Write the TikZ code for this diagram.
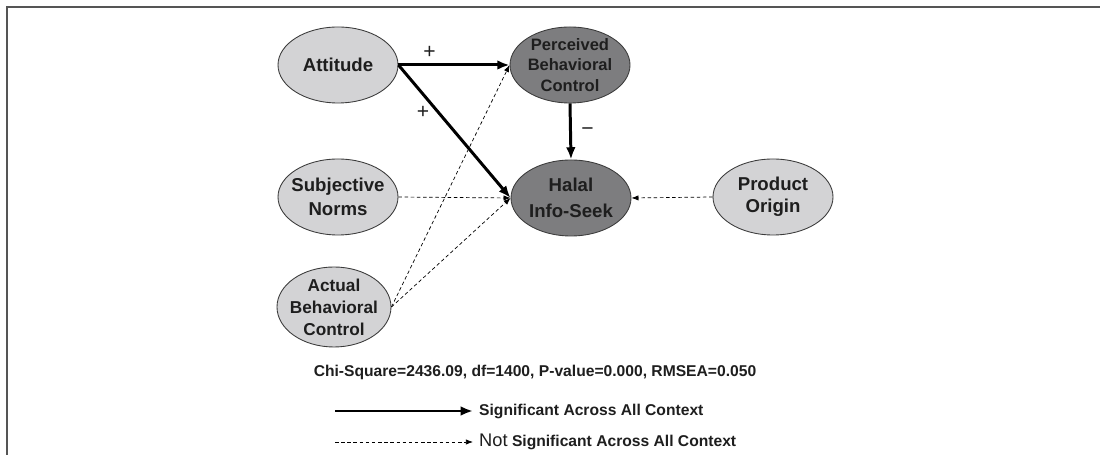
\documentclass[tikz,border=0pt]{standalone}
\usepackage{fontspec}
\setmainfont{Liberation Sans}
\usetikzlibrary{shapes.geometric,arrows.meta}
\definecolor{chiaro}{RGB}{211,211,213}
\definecolor{scuro}{RGB}{125,125,127}
\definecolor{bordo}{RGB}{60,60,60}
\definecolor{cornice}{RGB}{85,85,85}
\definecolor{testo}{RGB}{30,30,30}

\begin{document}
\begin{tikzpicture}[
    costrutto/.style={ellipse, draw=bordo, line width=0.5pt, minimum width=2.4cm, minimum height=1.52cm,
        inner xsep=-0.3cm, inner ysep=-0.15cm, align=center, text=testo,
        font=\bfseries\fontsize{10.6}{13.5}\selectfont},
    sig/.style={line width=1.7pt, -{Latex[length=7pt,width=5.5pt]}},
    nonsig/.style={line width=0.4pt, dash pattern=on 2pt off 1.5pt, -{Latex[length=4pt,width=3pt]}},
    segno/.style={text=testo, inner sep=0pt, font=\fontsize{12}{12}\selectfont},
    legenda/.style={anchor=west, text=testo, font=\bfseries\fontsize{8.9}{10}\selectfont}
]
\useasboundingbox (0,0) rectangle (22,9.1);
% Cornice
\draw[cornice, line width=1.1pt] (0.14,0) -- (0.14,8.96) -- (22,8.96);

% Nodi
\node[costrutto, fill=chiaro] (att) at (6.76,7.8) {Attitude};
\node[costrutto, fill=scuro, font=\bfseries\fontsize{9.4}{11.8}\selectfont] (pbc) at (11.4,7.8) {Perceived\\Behavioral\\Control};
\node[costrutto, fill=chiaro] (sn) at (6.76,5.16) {Subjective\\Norms};
\node[costrutto, fill=scuro, font=\bfseries\fontsize{10.6}{15}\selectfont] (his) at (11.42,5.14) {Halal\\Info-Seek};
\node[costrutto, fill=chiaro, font=\bfseries\fontsize{10.6}{12.5}\selectfont] (po) at (15.46,5.16) {Product\\Origin};
\node[costrutto, fill=chiaro, minimum width=2.28cm, minimum height=1.6cm,
    font=\bfseries\fontsize{9.8}{12.6}\selectfont] (abc) at (6.68,2.96) {Actual\\Behavioral\\Control};

% Archi significativi
\draw[sig] (att.east) -- (pbc.west) node[pos=0.28, yshift=0.25cm, segno] {+};
\draw[sig] (att.east) -- (his.west) node[pos=0.22, yshift=-0.36cm, segno] {+};
\draw[sig] (pbc.south) -- (his.north) node[midway, xshift=0.34cm, segno] {\textminus};

% Archi non significativi
\draw[nonsig] (sn.east) -- (his.west);
\draw[nonsig] (po.west) -- (his.east);
\draw[nonsig] (abc.east) -- (pbc.west);
\draw[nonsig] (abc.east) -- (his.west);

% Statistiche e legenda
\node[text=testo, font=\bfseries\fontsize{8.9}{10}\selectfont] (chi) at (10.7,1.66) {Chi-Square=2436.09, df=1400, P-value=0.000, RMSEA=0.050};
\coordinate (l1) at (6.7,0.88);
\node[legenda] (lsig) at (9.46,0.88) {Significant Across All Context};
\draw[sig, line width=1.5pt] (l1) -- (lsig.west);
\coordinate (l2) at (6.7,0.26);
\node[legenda] (lnon) at (9.46,0.26) {{\mdseries\fontsize{10.4}{12}\selectfont Not} Significant Across All Context};
\draw[nonsig] (l2) -- (lnon.west);
\end{tikzpicture}
\end{document}
